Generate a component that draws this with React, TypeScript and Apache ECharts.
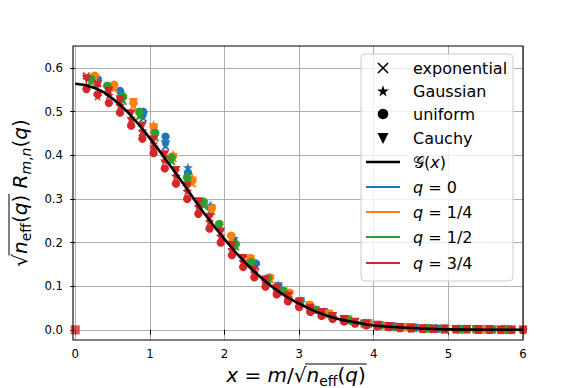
import React, { useEffect, useRef } from 'react';
import * as echarts from 'echarts';

const FONT = '"DejaVu Sans", sans-serif';
const C_Q = ['#1f77b4', '#ff7f0e', '#2ca02c', '#d62728'];
const Q_LABELS = ['0', '1/4', '1/2', '3/4'];
const DIST_LABELS = ['exponential', 'Gaussian', 'uniform', 'Cauchy'];
const X_TICKS = [0, 1, 2, 3, 4, 5, 6];
const Y_TICKS = [0, 0.1, 0.2, 0.3, 0.4, 0.5, 0.6];

// limit curve G(x)
const G_X = [0, 0.25, 0.5, 0.75, 1, 1.25, 1.5, 1.75, 2, 2.25, 2.5, 2.75, 3, 3.25, 3.5, 3.75, 4, 4.5, 5, 5.5, 6];
const G_Y = [0.564, 0.555, 0.530, 0.490, 0.439, 0.382, 0.322, 0.262, 0.208, 0.159, 0.118, 0.085, 0.060, 0.040, 0.026, 0.017, 0.010, 0.004, 0.001, 0.000, 0.000];

// q = 0
const X_Q0 = [0.30, 0.60, 0.91, 1.21, 1.51, 1.81, 2.12, 2.42, 2.72, 3.02, 3.33, 3.63, 3.93, 4.23, 4.54, 4.84, 5.14, 5.44, 5.75];
const Y_EXP_Q0 = [0.565, 0.538, 0.485, 0.420, 0.350, 0.272, 0.200, 0.145, 0.097, 0.063, 0.039, 0.023, 0.013, 0.007, 0.004, 0.002, 0.001, 0.001, 0.000];
const Y_GAU_Q0 = [0.570, 0.545, 0.495, 0.430, 0.372, 0.285, 0.210, 0.148, 0.102, 0.064, 0.040, 0.025, 0.015, 0.008, 0.005, 0.003, 0.002, 0.001, 0.001];
const Y_UNI_Q0 = [0.575, 0.548, 0.500, 0.443, 0.360, 0.280, 0.205, 0.152, 0.100, 0.066, 0.041, 0.024, 0.014, 0.008, 0.005, 0.003, 0.002, 0.001, 0.001];
const Y_CAU_Q0 = [0.568, 0.540, 0.490, 0.425, 0.355, 0.276, 0.203, 0.146, 0.099, 0.065, 0.040, 0.024, 0.014, 0.008, 0.004, 0.002, 0.001, 0.001, 0.000];

// q = 1/4
const X_Q1 = [0.26, 0.52, 0.78, 1.05, 1.31, 1.57, 1.83, 2.09, 2.35, 2.61, 2.87, 3.14, 3.40, 3.66, 3.92, 4.18, 4.44, 4.70, 4.96, 5.22, 5.49, 5.75];
const Y_EXP_Q1 = [0.572, 0.552, 0.512, 0.460, 0.392, 0.335, 0.272, 0.208, 0.158, 0.115, 0.081, 0.054, 0.035, 0.022, 0.013, 0.008, 0.005, 0.003, 0.002, 0.001, 0.001, 0.000];
const Y_GAU_Q1 = [0.578, 0.558, 0.518, 0.470, 0.402, 0.349, 0.283, 0.212, 0.160, 0.118, 0.083, 0.056, 0.036, 0.023, 0.014, 0.009, 0.005, 0.003, 0.002, 0.001, 0.001, 0.000];
const Y_UNI_Q1 = [0.583, 0.562, 0.520, 0.466, 0.398, 0.342, 0.278, 0.216, 0.165, 0.120, 0.085, 0.057, 0.037, 0.024, 0.015, 0.009, 0.006, 0.004, 0.003, 0.002, 0.001, 0.001];
const Y_CAU_Q1 = [0.576, 0.555, 0.522, 0.463, 0.395, 0.338, 0.275, 0.210, 0.161, 0.117, 0.082, 0.055, 0.036, 0.023, 0.014, 0.008, 0.005, 0.003, 0.002, 0.001, 0.001, 0.000];

// q = 1/2
const X_Q2 = [0.21, 0.43, 0.64, 0.86, 1.07, 1.29, 1.50, 1.72, 1.93, 2.15, 2.36, 2.58, 2.79, 3.01, 3.22, 3.44, 3.65, 3.87, 4.08, 4.30, 4.51, 4.73, 4.94, 5.16, 5.37, 5.59, 5.80];
const Y_EXP_Q2 = [0.568, 0.550, 0.524, 0.488, 0.440, 0.386, 0.338, 0.284, 0.235, 0.190, 0.150, 0.114, 0.086, 0.063, 0.045, 0.031, 0.021, 0.014, 0.009, 0.006, 0.004, 0.002, 0.001, 0.001, 0.000, 0.000, 0.000];
const Y_GAU_Q2 = [0.572, 0.556, 0.530, 0.495, 0.448, 0.392, 0.345, 0.290, 0.240, 0.193, 0.152, 0.116, 0.088, 0.064, 0.046, 0.031, 0.021, 0.014, 0.010, 0.006, 0.004, 0.003, 0.002, 0.001, 0.001, 0.000, 0.000];
const Y_UNI_Q2 = [0.575, 0.560, 0.535, 0.500, 0.452, 0.395, 0.350, 0.294, 0.243, 0.196, 0.155, 0.118, 0.089, 0.065, 0.046, 0.032, 0.022, 0.015, 0.010, 0.007, 0.005, 0.003, 0.002, 0.001, 0.001, 0.001, 0.000];
const Y_CAU_Q2 = [0.570, 0.552, 0.528, 0.492, 0.445, 0.390, 0.342, 0.288, 0.238, 0.192, 0.151, 0.115, 0.087, 0.064, 0.045, 0.031, 0.021, 0.014, 0.010, 0.006, 0.004, 0.003, 0.002, 0.001, 0.001, 0.000, 0.000];

// q = 3/4
const X_Q3 = [0.15, 0.30, 0.45, 0.60, 0.75, 0.90, 1.05, 1.20, 1.35, 1.50, 1.65, 1.80, 1.95, 2.10, 2.25, 2.40, 2.55, 2.70, 2.85, 3.00, 3.15, 3.30, 3.45, 3.60, 3.75, 3.90, 4.05, 4.20, 4.35, 4.50, 4.65, 4.80, 4.95, 5.10, 5.25, 5.40, 5.55, 5.70, 5.85, 6.00];
const Y_EXP_Q3 = [0.582, 0.565, 0.545, 0.522, 0.478, 0.452, 0.422, 0.392, 0.360, 0.325, 0.290, 0.255, 0.222, 0.190, 0.162, 0.137, 0.114, 0.094, 0.077, 0.062, 0.049, 0.039, 0.030, 0.023, 0.018, 0.013, 0.010, 0.007, 0.005, 0.004, 0.003, 0.002, 0.001, 0.001, 0.001, 0.000, 0.000, 0.000, 0.000, 0.000];
const Y_GAU_Q3 = [0.560, 0.536, 0.538, 0.514, 0.486, 0.455, 0.420, 0.388, 0.352, 0.318, 0.282, 0.248, 0.215, 0.185, 0.158, 0.133, 0.111, 0.091, 0.074, 0.060, 0.048, 0.037, 0.029, 0.022, 0.017, 0.013, 0.010, 0.007, 0.005, 0.004, 0.003, 0.002, 0.001, 0.001, 0.001, 0.000, 0.000, 0.000, 0.000, 0.000];
const Y_UNI_Q3 = [0.552, 0.540, 0.520, 0.498, 0.468, 0.438, 0.405, 0.370, 0.335, 0.300, 0.266, 0.232, 0.200, 0.171, 0.144, 0.120, 0.099, 0.081, 0.065, 0.052, 0.041, 0.032, 0.025, 0.019, 0.014, 0.010, 0.008, 0.006, 0.004, 0.003, 0.002, 0.002, 0.001, 0.001, 0.001, 0.000, 0.000, 0.000, 0.000, 0.000];
const Y_CAU_Q3 = [0.575, 0.560, 0.548, 0.528, 0.496, 0.468, 0.436, 0.402, 0.366, 0.330, 0.294, 0.258, 0.225, 0.193, 0.164, 0.138, 0.115, 0.095, 0.078, 0.063, 0.050, 0.040, 0.031, 0.024, 0.018, 0.014, 0.011, 0.008, 0.006, 0.004, 0.003, 0.002, 0.002, 0.001, 0.001, 0.001, 0.001, 0.000, 0.000, 0.000];

const ORIGIN_POINT = [0, 0];

const X_BY_Q = [X_Q0, X_Q1, X_Q2, X_Q3];
const Y_BY_Q = [
  [Y_EXP_Q0, Y_GAU_Q0, Y_UNI_Q0, Y_CAU_Q0],
  [Y_EXP_Q1, Y_GAU_Q1, Y_UNI_Q1, Y_CAU_Q1],
  [Y_EXP_Q2, Y_GAU_Q2, Y_UNI_Q2, Y_CAU_Q2],
  [Y_EXP_Q3, Y_GAU_Q3, Y_UNI_Q3, Y_CAU_Q3],
];

const SYM_X = 'path://M0,1.6 L1.6,0 L5,3.4 L8.4,0 L10,1.6 L6.6,5 L10,8.4 L8.4,10 L5,6.6 L1.6,10 L0,8.4 L3.4,5 Z';
const SYM_STAR = 'path://M50,0 L61.23,34.55 L97.55,34.55 L68.17,55.9 L79.39,90.45 L50,69.1 L20.61,90.45 L31.83,55.9 L2.45,34.55 L38.77,34.55 Z';
const SYM_TRI = 'path://M0,0 L10,0 L5,9 Z';
const SYMBOLS = [SYM_X, SYM_STAR, 'circle', SYM_TRI];
const SYM_SIZES: any[] = [8, 10, 8.3, [9, 8.5]];

let measureCtx: CanvasRenderingContext2D | null = null;
function measure(text: string, size: number, italic: boolean) {
  if (!measureCtx) measureCtx = document.createElement('canvas').getContext('2d');
  measureCtx!.font = `${italic ? 'italic ' : ''}${size}px "DejaVu Sans"`;
  return measureCtx!.measureText(text).width;
}

type Tok = { t: string; i?: boolean; sub?: boolean; s0?: boolean; s1?: boolean };

const ZTOP = 60;

function mathPieces(tokens: Tok[], size: number, align: 'left' | 'center') {
  const subSize = size * 0.7;
  const widths = tokens.map((tk) => measure(tk.t, tk.sub ? subSize : size, !!tk.i));
  const total = widths.reduce((a, b) => a + b, 0);
  let x = align === 'center' ? -total / 2 : 0;
  const children: any[] = [];
  let o0 = 0;
  let o1 = 0;
  let hasO = false;
  tokens.forEach((tk, k) => {
    if (tk.s0) { o0 = x; hasO = true; }
    children.push({
      type: 'text',
      x,
      y: tk.sub ? size * 0.3 : 0,
      z: ZTOP + 1,
      style: {
        text: tk.t,
        fontSize: tk.sub ? subSize : size,
        fontFamily: FONT,
        fontStyle: tk.i ? 'italic' : 'normal',
        fill: '#000',
        align: 'left',
        verticalAlign: 'middle',
      },
    });
    x += widths[k];
    if (tk.s1) o1 = x;
  });
  if (hasO) {
    children.push({
      type: 'line',
      z: ZTOP + 1,
      shape: { x1: o0 - 1.5, y1: -size * 0.55, x2: o1 + 1, y2: -size * 0.55 },
      style: { stroke: '#000', lineWidth: 1 },
    });
  }
  return children;
}

function starPts(cx: number, cy: number, R: number) {
  const pts: number[][] = [];
  for (let k = 0; k < 10; k++) {
    const a = (-90 + 36 * k) * Math.PI / 180;
    const r = k % 2 === 0 ? R : R * 0.382;
    pts.push([cx + r * Math.cos(a), cy + r * Math.sin(a)]);
  }
  return pts;
}

function buildLegend() {
  const els: any[] = [];
  els.push({
    type: 'rect',
    z: ZTOP,
    shape: { x: 361, y: 54, width: 152, height: 227, r: 4 },
    style: { fill: 'rgba(255,255,255,0.8)', stroke: '#cccccc', lineWidth: 1 },
  });
  const mx = 383;
  const tx = 413;
  const rowsY = [68, 91, 114, 138, 162, 187, 212, 237, 263];
  const y0 = rowsY[0];
  els.push({ type: 'line', z: ZTOP + 1, shape: { x1: mx - 5, y1: y0 - 5, x2: mx + 5, y2: y0 + 5 }, style: { stroke: '#000', lineWidth: 1.6 } });
  els.push({ type: 'line', z: ZTOP + 1, shape: { x1: mx + 5, y1: y0 - 5, x2: mx - 5, y2: y0 + 5 }, style: { stroke: '#000', lineWidth: 1.6 } });
  els.push({ type: 'polygon', z: ZTOP + 1, shape: { points: starPts(mx, rowsY[1] + 0.5, 6.2) }, style: { fill: '#000' } });
  els.push({ type: 'circle', z: ZTOP + 1, shape: { cx: mx, cy: rowsY[2], r: 5.3 }, style: { fill: '#000' } });
  const y3 = rowsY[3];
  els.push({ type: 'polygon', z: ZTOP + 1, shape: { points: [[mx - 5.5, y3 - 5], [mx + 5.5, y3 - 5], [mx, y3 + 6]] }, style: { fill: '#000' } });
  DIST_LABELS.forEach((lab, k) => {
    els.push({
      type: 'text', z: ZTOP + 1, x: tx, y: rowsY[k],
      style: { text: lab, fontSize: 16, fontFamily: FONT, fill: '#000', align: 'left', verticalAlign: 'middle' },
    });
  });
  const lineRows: { color: string; w: number; toks: Tok[] }[] = [
    { color: '#000', w: 2.5, toks: [{ t: '𝒢' }, { t: '(' }, { t: 'x', i: true }, { t: ')' }] },
  ];
  Q_LABELS.forEach((ql, k) => {
    lineRows.push({ color: C_Q[k], w: 2, toks: [{ t: 'q', i: true }, { t: ' = ' + ql }] });
  });
  lineRows.forEach((r, k) => {
    const y = rowsY[4 + k];
    els.push({ type: 'line', z: ZTOP + 1, shape: { x1: 366, y1: y, x2: 400, y2: y }, style: { stroke: r.color, lineWidth: r.w } });
    els.push({ type: 'group', z: ZTOP + 1, x: tx, y, children: mathPieces(r.toks, 16, 'left') });
  });
  return els;
}

const X_TITLE: Tok[] = [
  { t: 'x', i: true }, { t: ' = ' }, { t: 'm', i: true }, { t: '/' }, { t: '√' },
  { t: 'n', i: true, s0: true }, { t: 'eff', sub: true }, { t: '(' }, { t: 'q', i: true }, { t: ')', s1: true },
];
const Y_TITLE: Tok[] = [
  { t: '√' }, { t: 'n', i: true, s0: true }, { t: 'eff', sub: true }, { t: '(' }, { t: 'q', i: true }, { t: ')', s1: true },
  { t: ' ' }, { t: 'R', i: true }, { t: 'm', i: true, sub: true }, { t: ',', sub: true }, { t: 'n', i: true, sub: true },
  { t: '(' }, { t: 'q', i: true }, { t: ')' },
];

export default function App() {
  const ref = useRef<HTMLDivElement>(null);
  useEffect(() => {
    if (!ref.current) return;
    const chart = echarts.init(ref.current, null, { renderer: 'svg' });
    const series: any[] = [];
    X_BY_Q.forEach((xs, q) => {
      Y_BY_Q[q].forEach((ys, d) => {
        series.push({
          type: 'scatter',
          name: `${DIST_LABELS[d]} q=${Q_LABELS[q]}`,
          data: xs.map((x, i) => [x, ys[i]]),
          symbol: SYMBOLS[d],
          symbolSize: SYM_SIZES[d],
          itemStyle: { color: C_Q[q], opacity: 1 },
          clip: true,
          silent: true,
        });
      });
    });
    series.push({
      type: 'scatter',
      data: [ORIGIN_POINT],
      symbol: 'rect',
      symbolSize: 9,
      itemStyle: { color: C_Q[3] },
      clip: true,
      silent: true,
    });
    series.push({
      type: 'line',
      data: G_X.map((x, i) => [x, G_Y[i]]),
      smooth: true,
      showSymbol: false,
      symbol: 'none',
      lineStyle: { color: '#000', width: 2.6 },
      z: 5,
      silent: true,
    });

    const axisCommon = {
      type: 'value',
      axisLine: { show: false },
      splitLine: { show: true, lineStyle: { color: '#b0b0b0', width: 1 } },
    };

    chart.setOption({
      animation: false,
      grid: { left: 73, right: 58, top: 46, bottom: 48 },
      xAxis: {
        ...axisCommon,
        min: -0.03,
        max: 6,
        axisTick: { show: true, length: 5, lineStyle: { color: '#000', width: 1 }, customValues: X_TICKS },
        axisLabel: {
          customValues: X_TICKS, fontSize: 11.7, fontFamily: FONT, color: '#000', margin: 8,
          formatter: (v: number) => String(Math.round(v)),
        },
      },
      yAxis: {
        ...axisCommon,
        min: -0.0234,
        max: 0.6507,
        axisTick: { show: true, length: 5, lineStyle: { color: '#000', width: 1 }, customValues: Y_TICKS },
        axisLabel: {
          customValues: Y_TICKS, fontSize: 11.7, fontFamily: FONT, color: '#000', margin: 10,
          formatter: (v: number) => v.toFixed(1),
        },
      },
      series,
      graphic: [
        {
          type: 'rect',
          shape: { x: 73, y: 46, width: 450, height: 294 },
          style: { fill: 'none', stroke: '#000', lineWidth: 1.1 },
          z: 50,
        },
        ...buildLegend(),
        { type: 'group', x: 296, y: 375, z: ZTOP + 1, children: mathPieces(X_TITLE, 20, 'center') },
        { type: 'group', x: 20, y: 193, z: ZTOP + 1, rotation: Math.PI / 2, children: mathPieces(Y_TITLE, 20, 'center') },
      ],
    });
    return () => chart.dispose();
  }, []);
  return <div ref={ref} style={{ position: 'absolute', left: 0, top: 0, width: 581, height: 388 }} />;
}
